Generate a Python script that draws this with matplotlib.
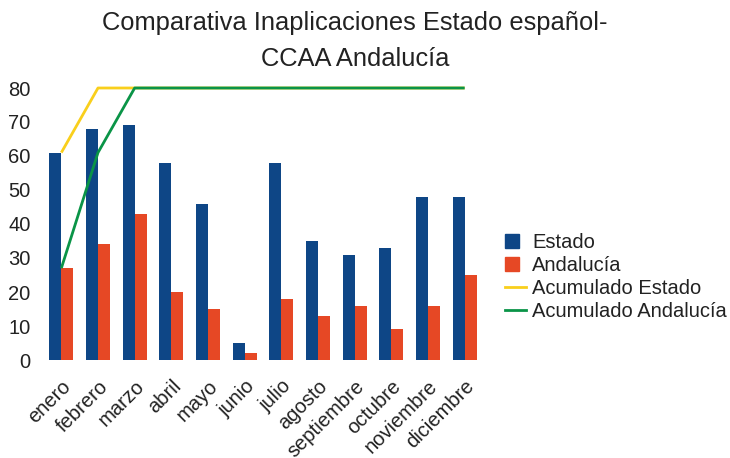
import matplotlib
matplotlib.use('Agg')
import matplotlib.pyplot as plt
import numpy as np
from matplotlib.patches import Patch, Rectangle
from matplotlib.lines import Line2D
from matplotlib.legend_handler import HandlerPatch

# Data
meses = ['enero', 'febrero', 'marzo', 'abril', 'mayo', 'junio', 'julio',
         'agosto', 'septiembre', 'octubre', 'noviembre', 'diciembre']
estado = [61, 68, 69, 58, 46, 5, 58, 35, 31, 33, 48, 48]
andalucia = [27, 34, 43, 20, 15, 2, 18, 13, 16, 9, 16, 25]
acum_estado = [61, 80, 80, 80, 80, 80, 80, 80, 80, 80, 80, 80]
acum_andalucia = [27, 61, 80, 80, 80, 80, 80, 80, 80, 80, 80, 80]

C_ESTADO = '#0e4686'
C_ANDAL = '#e64825'
C_ACUM_E = '#f9cf1c'
C_ACUM_A = '#0a9447'
TXT = '#222222'

plt.rcParams['font.family'] = ['Liberation Sans', 'DejaVu Sans']

fig = plt.figure(figsize=(7.3, 4.58), dpi=100)
ax = fig.add_axes([43 / 730, 1 - 360 / 458, 440 / 730, 272 / 458])

x = np.arange(len(meses))
w = 0.33
ax.bar(x - w / 2, estado, width=w, color=C_ESTADO)
ax.bar(x + w / 2, andalucia, width=w, color=C_ANDAL)
ax.plot(x, acum_estado, color=C_ACUM_E, lw=2, solid_capstyle='butt', clip_on=False)
ax.plot(x, acum_andalucia, color=C_ACUM_A, lw=2, solid_capstyle='butt', clip_on=False)

ax.set_xlim(-0.5, len(meses) - 0.5)
ax.set_ylim(0, 80)
ax.set_yticks(range(0, 81, 10))
ax.set_xticks(x)
ax.set_xticklabels(meses, rotation=45, ha='right', rotation_mode='anchor')
ax.tick_params(axis='both', length=0, labelsize=14.5, colors=TXT)
ax.tick_params(axis='y', pad=9)
ax.tick_params(axis='x', pad=12)
for s in ax.spines.values():
    s.set_visible(False)

# title, two lines
fig.text(355 / 730, 1 - 30 / 458, 'Comparativa Inaplicaciones Estado español-',
         ha='center', va='baseline', fontsize=18.4, color=TXT)
fig.text(355 / 730, 1 - 66 / 458, 'CCAA Andalucía',
         ha='center', va='baseline', fontsize=18.4, color=TXT)


def square_patch(legend, orig_handle, xdescent, ydescent, width, height, fontsize):
    s = height * 1.1
    return Rectangle((-xdescent, -ydescent + (height - s) / 2), s, s)


handles = [Patch(color=C_ESTADO), Patch(color=C_ANDAL),
           Line2D([], [], color=C_ACUM_E, lw=2), Line2D([], [], color=C_ACUM_A, lw=2)]
labels = ['Estado', 'Andalucía', 'Acumulado Estado', 'Acumulado Andalucía']
fig.legend(handles, labels, loc='center left', bbox_to_anchor=(495 / 730, 1 - 277 / 458),
           frameon=False, fontsize=14.5, handlelength=1.05, handleheight=0.6,
           handletextpad=0.3, labelspacing=0.2, borderpad=0, labelcolor=TXT,
           handler_map={Patch: HandlerPatch(patch_func=square_patch)})

fig.savefig('out.png', dpi=100)
